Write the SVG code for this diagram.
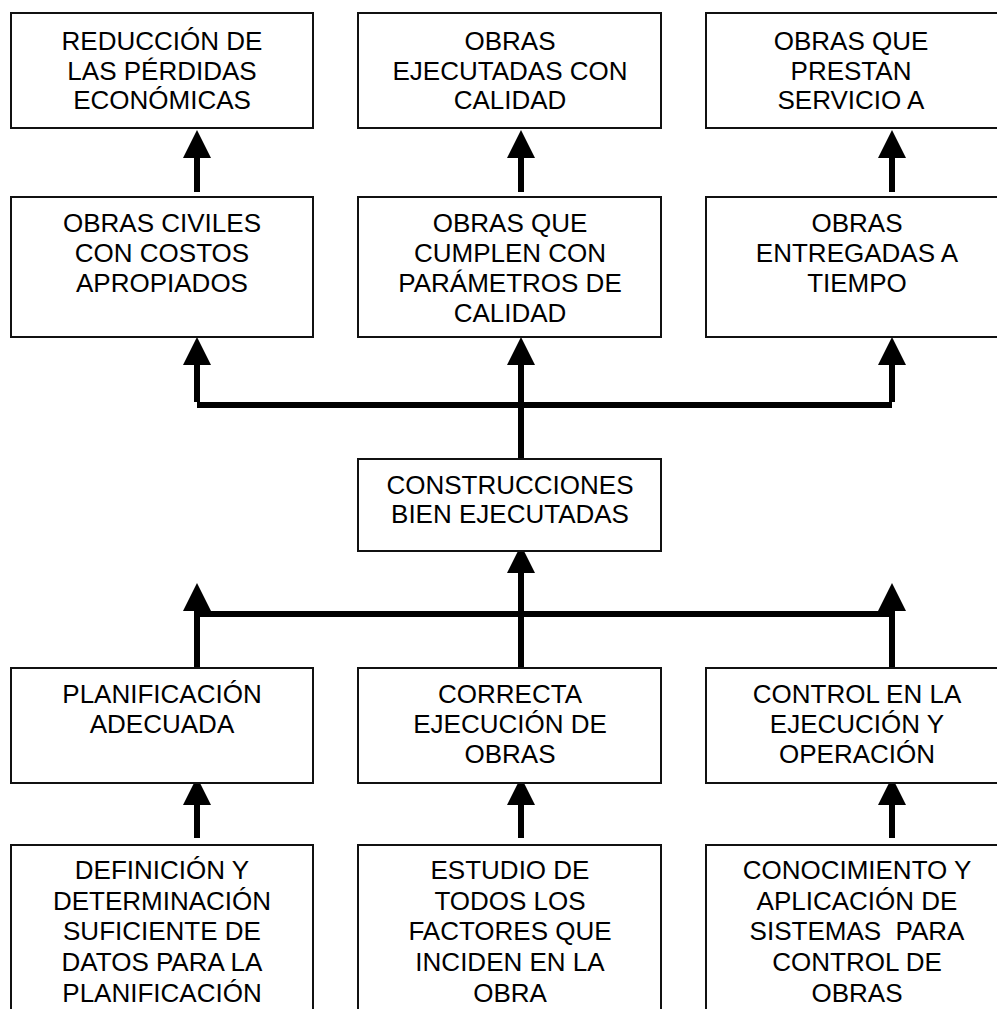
<svg xmlns="http://www.w3.org/2000/svg" width="997" height="1009" viewBox="0 0 997 1009">
<style>
.box{fill:#fff;stroke:#111;stroke-width:2}
.t{font-family:"Liberation Sans",Arial,sans-serif;font-size:26px;fill:#000;text-anchor:middle}
.sh{stroke:#000;stroke-width:6;fill:none}
.hd{fill:#000}
</style>
<rect width="997" height="1009" fill="#fff"/>
<g id="connectors">
<line class="sh" x1="197" y1="158" x2="197" y2="192"/><polygon class="hd" points="197,130 183,158 211,158"/>
<line class="sh" x1="521" y1="158" x2="521" y2="192"/><polygon class="hd" points="521,130 507,158 535,158"/>
<line class="sh" x1="892" y1="158" x2="892" y2="192"/><polygon class="hd" points="892,130 878,158 906,158"/>
<line class="sh" x1="197" y1="365" x2="197" y2="402"/><polygon class="hd" points="197,337 183,365 211,365"/>
<line class="sh" x1="892" y1="365" x2="892" y2="402"/><polygon class="hd" points="892,337 878,365 906,365"/>
<line class="sh" x1="521" y1="365" x2="521" y2="459"/><polygon class="hd" points="521,337 507,365 535,365"/>
<line class="sh" x1="197" y1="405" x2="892" y2="405"/>
<line class="sh" x1="197" y1="614" x2="892" y2="614"/>
<line class="sh" x1="197" y1="611" x2="197" y2="668"/><polygon class="hd" points="197,583 183,611 211,611"/>
<line class="sh" x1="892" y1="611" x2="892" y2="668"/><polygon class="hd" points="892,583 878,611 906,611"/>
<line class="sh" x1="521" y1="573" x2="521" y2="668"/><polygon class="hd" points="521,545 507,573 535,573"/>
<line class="sh" x1="197" y1="805" x2="197" y2="838"/><polygon class="hd" points="197,777 183,805 211,805"/>
<line class="sh" x1="521" y1="805" x2="521" y2="838"/><polygon class="hd" points="521,777 507,805 535,805"/>
<line class="sh" x1="892" y1="805" x2="892" y2="838"/><polygon class="hd" points="892,777 878,805 906,805"/>
</g>
<g id="n1"><rect class="box" x="11" y="13" width="302" height="115"/><text class="t"><tspan x="162" y="50">REDUCCIÓN DE</tspan><tspan x="162" y="79.5">LAS PÉRDIDAS</tspan><tspan x="162" y="109">ECONÓMICAS</tspan></text></g>
<g id="n2"><rect class="box" x="358" y="13" width="303" height="115"/><text class="t"><tspan x="510" y="50">OBRAS</tspan><tspan x="510" y="79.5">EJECUTADAS CON</tspan><tspan x="510" y="109">CALIDAD</tspan></text></g>
<g id="n3"><rect class="box" x="706" y="13" width="302" height="115"/><text class="t"><tspan x="851" y="50">OBRAS QUE</tspan><tspan x="851" y="79.5">PRESTAN</tspan><tspan x="851" y="109">SERVICIO A</tspan></text></g>
<g id="n4"><rect class="box" x="11" y="197" width="302" height="140"/><text class="t"><tspan x="162" y="232">OBRAS CIVILES</tspan><tspan x="162" y="262">CON COSTOS</tspan><tspan x="162" y="292">APROPIADOS</tspan></text></g>
<g id="n5"><rect class="box" x="358" y="197" width="303" height="140"/><text class="t"><tspan x="510" y="232">OBRAS QUE</tspan><tspan x="510" y="262">CUMPLEN CON</tspan><tspan x="510" y="292">PARÁMETROS DE</tspan><tspan x="510" y="322">CALIDAD</tspan></text></g>
<g id="n6"><rect class="box" x="706" y="197" width="302" height="140"/><text class="t"><tspan x="857" y="232">OBRAS</tspan><tspan x="857" y="262">ENTREGADAS A</tspan><tspan x="857" y="292">TIEMPO</tspan></text></g>
<g id="n7"><rect class="box" x="358" y="459" width="303" height="92"/><text class="t"><tspan x="510" y="494">CONSTRUCCIONES</tspan><tspan x="510" y="523">BIEN EJECUTADAS</tspan></text></g>
<g id="n8"><rect class="box" x="11" y="668" width="302" height="115"/><text class="t"><tspan x="162" y="703">PLANIFICACIÓN</tspan><tspan x="162" y="733">ADECUADA</tspan></text></g>
<g id="n9"><rect class="box" x="358" y="668" width="303" height="115"/><text class="t"><tspan x="510" y="703">CORRECTA</tspan><tspan x="510" y="733">EJECUCIÓN DE</tspan><tspan x="510" y="763">OBRAS</tspan></text></g>
<g id="n10"><rect class="box" x="706" y="668" width="302" height="115"/><text class="t"><tspan x="857" y="703">CONTROL EN LA</tspan><tspan x="857" y="733">EJECUCIÓN Y</tspan><tspan x="857" y="763">OPERACIÓN</tspan></text></g>
<g id="n11"><rect class="box" x="11" y="845" width="302" height="180"/><text class="t"><tspan x="162" y="879">DEFINICIÓN Y</tspan><tspan x="162" y="910">DETERMINACIÓN</tspan><tspan x="162" y="940">SUFICIENTE DE</tspan><tspan x="162" y="971">DATOS PARA LA</tspan><tspan x="162" y="1002">PLANIFICACIÓN</tspan></text></g>
<g id="n12"><rect class="box" x="358" y="845" width="303" height="180"/><text class="t"><tspan x="510" y="879">ESTUDIO DE</tspan><tspan x="510" y="910">TODOS LOS</tspan><tspan x="510" y="940">FACTORES QUE</tspan><tspan x="510" y="971">INCIDEN EN LA</tspan><tspan x="510" y="1002">OBRA</tspan></text></g>
<g id="n13"><rect class="box" x="706" y="845" width="302" height="180"/><text class="t" xml:space="preserve"><tspan x="857" y="879">CONOCIMIENTO Y</tspan><tspan x="857" y="910">APLICACIÓN DE</tspan><tspan x="857" y="940">SISTEMAS  PARA</tspan><tspan x="857" y="971">CONTROL DE</tspan><tspan x="857" y="1002">OBRAS</tspan></text></g>
</svg>
